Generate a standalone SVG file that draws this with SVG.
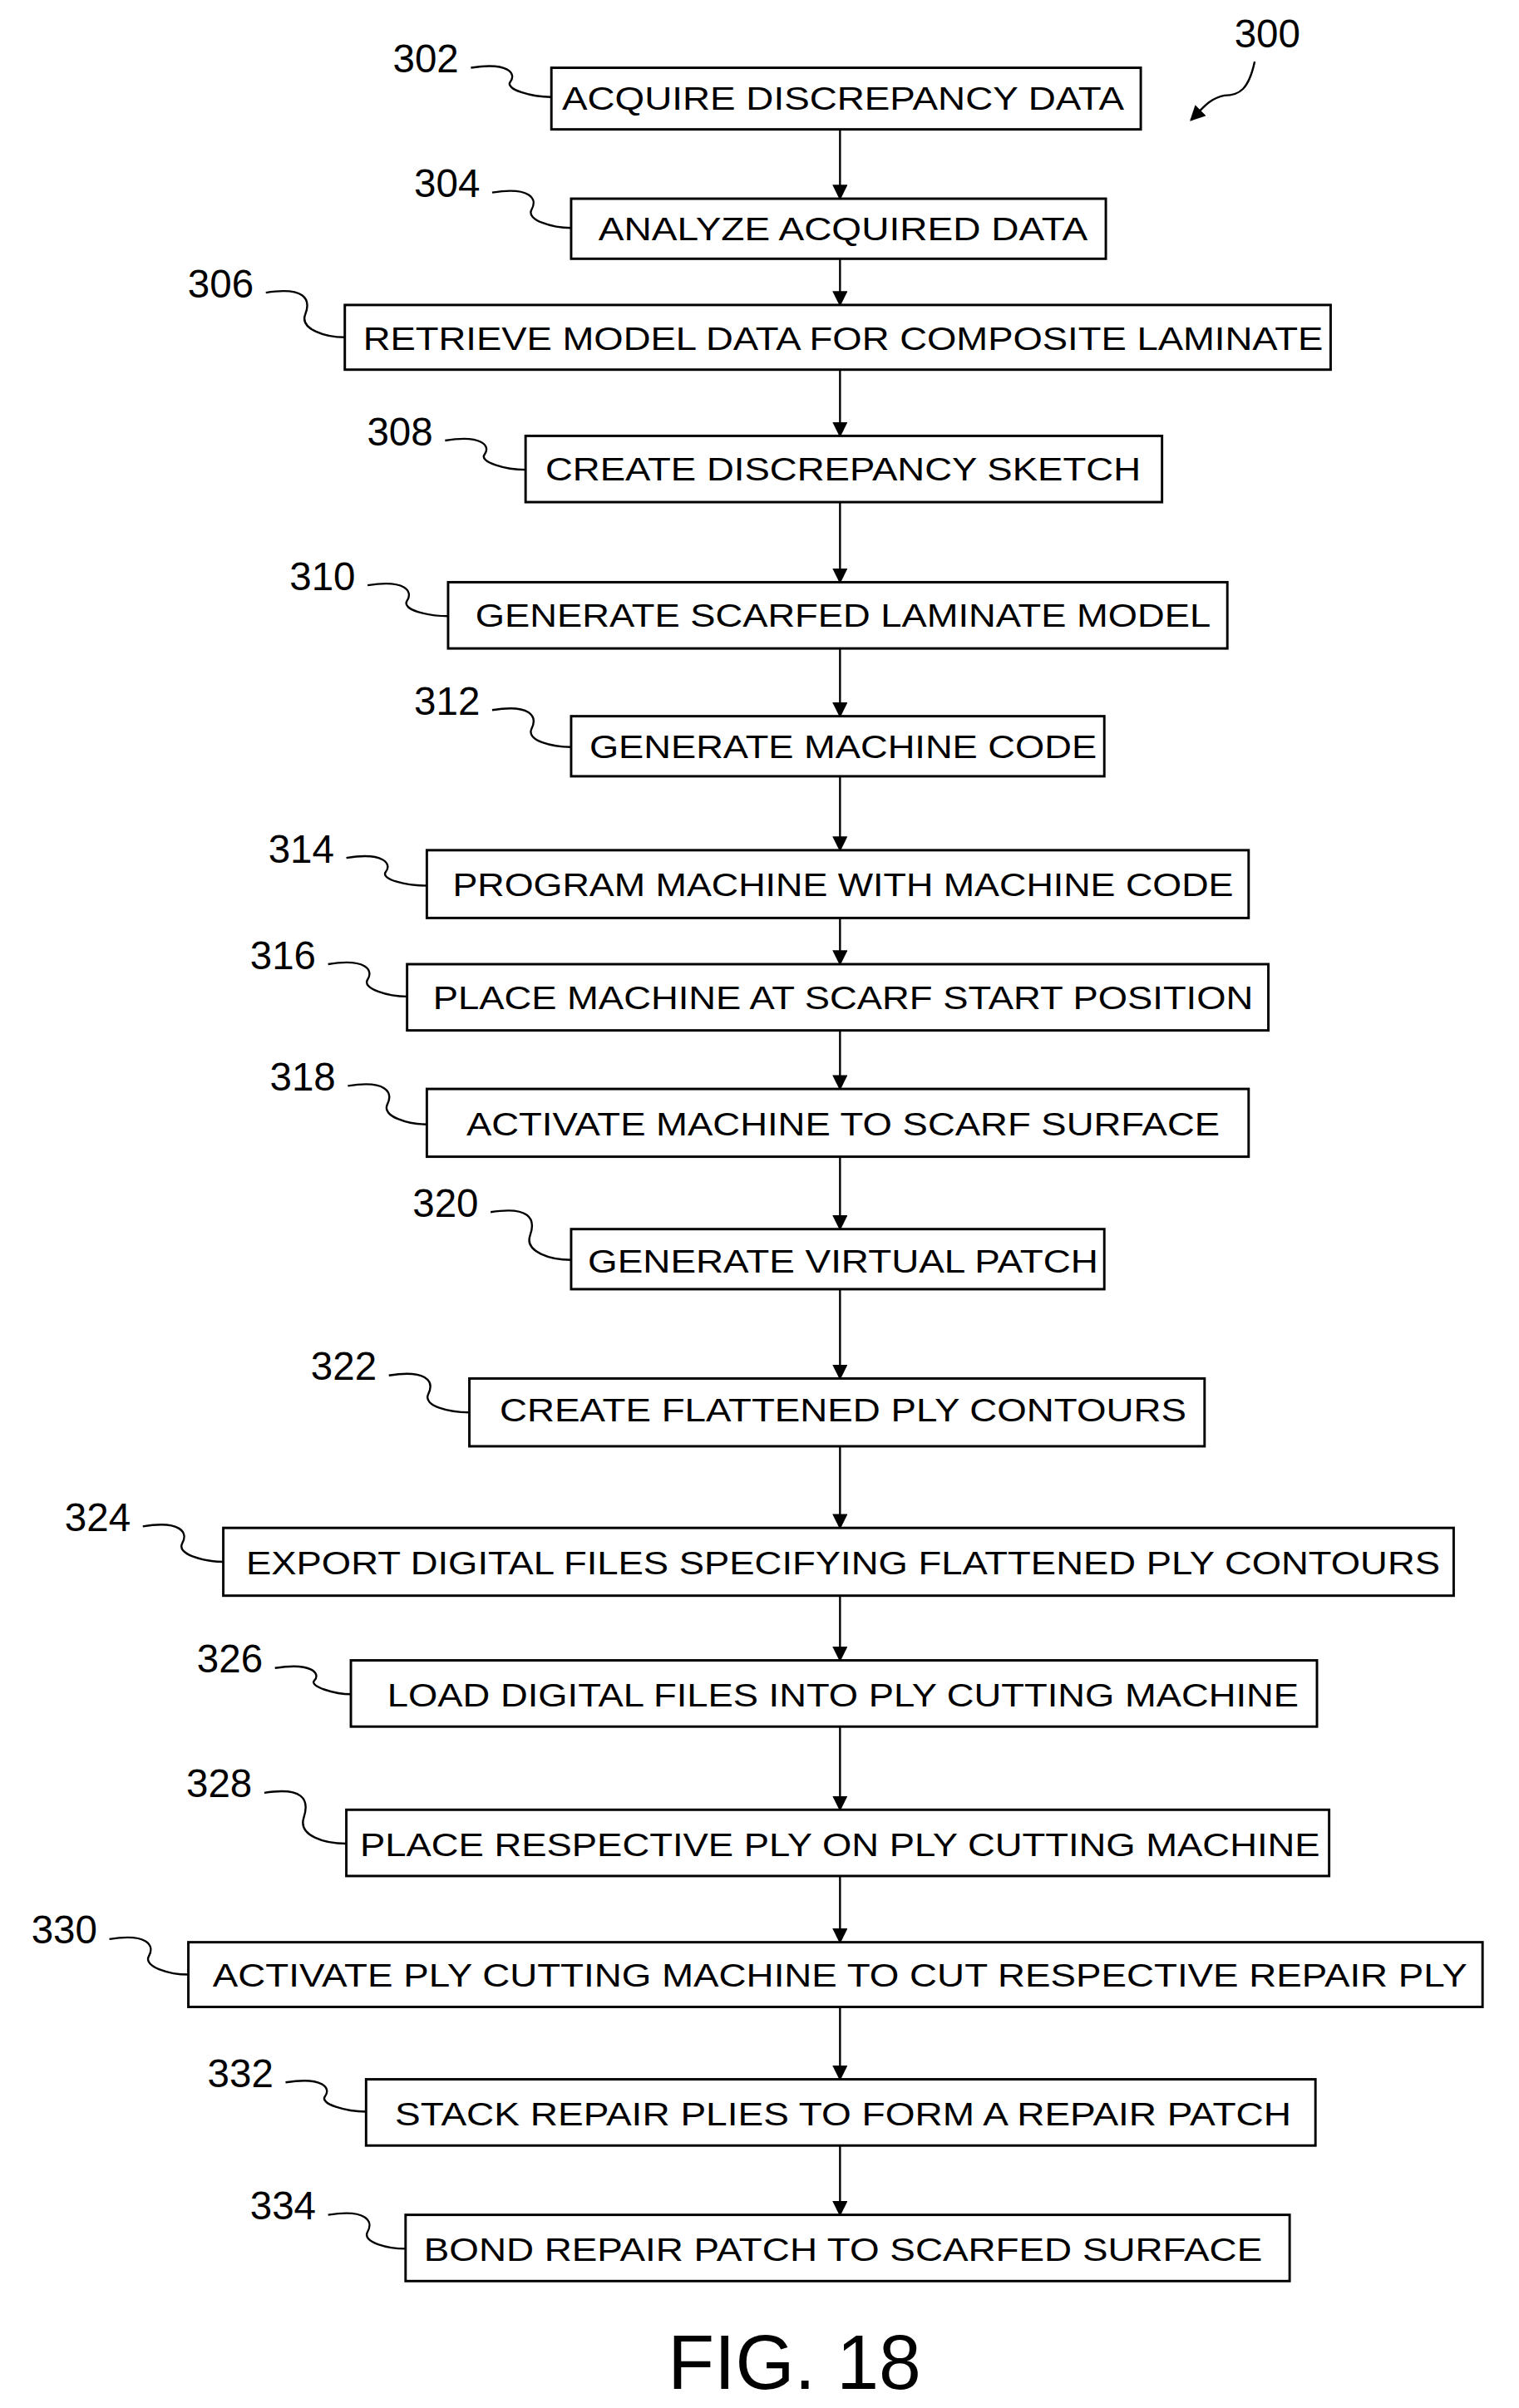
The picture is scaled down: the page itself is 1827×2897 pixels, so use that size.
<svg xmlns="http://www.w3.org/2000/svg" width="1827" height="2897" viewBox="0 0 1827 2897">
<defs><marker id="ah" markerWidth="10" markerHeight="12" refX="9" refY="5" orient="auto" markerUnits="userSpaceOnUse"><path d="M0,0 L10,5 L0,10 Z" fill="#000"/></marker></defs>
<style>
.b{fill:#fff;stroke:#000;stroke-width:1.6}
.t{font-family:"Liberation Sans",Arial,sans-serif;font-size:21px;text-anchor:middle}
.l{font-family:"Liberation Sans",Arial,sans-serif;font-size:26px;text-anchor:end}
.c{fill:none;stroke:#000;stroke-width:1.3}
</style>
<rect width="1827" height="2897" fill="#fff"/>
<g transform="scale(1.827 1.853)">
<g id="connectors">
<path class="c" marker-end="url(#ah)" d="M553,84V129"/>
<path class="c" marker-end="url(#ah)" d="M553,168V198"/>
<path class="c" marker-end="url(#ah)" d="M553,240V283"/>
<path class="c" marker-end="url(#ah)" d="M553,326V378"/>
<path class="c" marker-end="url(#ah)" d="M553,421V465"/>
<path class="c" marker-end="url(#ah)" d="M553,504V552"/>
<path class="c" marker-end="url(#ah)" d="M553,596V626"/>
<path class="c" marker-end="url(#ah)" d="M553,669V707"/>
<path class="c" marker-end="url(#ah)" d="M553,751V798"/>
<path class="c" marker-end="url(#ah)" d="M553,837V895"/>
<path class="c" marker-end="url(#ah)" d="M553,939V992"/>
<path class="c" marker-end="url(#ah)" d="M553,1036V1078"/>
<path class="c" marker-end="url(#ah)" d="M553,1121V1175"/>
<path class="c" marker-end="url(#ah)" d="M553,1218V1261"/>
<path class="c" marker-end="url(#ah)" d="M553,1303V1350"/>
<path class="c" marker-end="url(#ah)" d="M553,1393V1438"/>
<path class="c" d="M310,44 C335,40 340,48 336,53 S350,63 363,63 M324,125 C349,121 354,129 350,136 S364,148 376,148 M175,190 C200,186 205,194 201,204 S215,219 227,219 M293,286 C318,282 323,290 319,295 S333,305 346,305 M242,380 C267,376 272,384 268,390 S282,400 295,400 M324,461 C349,457 354,465 350,473 S364,485 376,485 M228,557 C253,553 258,561 254,566 S268,575 281,575 M216,626 C241,622 246,630 242,636 S256,647 268,647 M229,705 C254,701 259,709 255,717 S269,730 281,730 M323,787 C348,783 353,791 349,802 S363,818 376,818 M256,893 C281,889 286,897 282,905 S296,917 309,917 M94,991 C119,987 124,995 120,1002 S134,1014 147,1014 M181,1083 C206,1079 211,1087 207,1091 S221,1100 231,1100 M174,1164 C199,1160 204,1168 200,1180 S214,1197 228,1197 M72,1259 C97,1255 102,1263 98,1270 S112,1282 124,1282 M188,1352 C213,1348 218,1356 214,1361 S228,1371 241,1371 M216,1438 C241,1434 246,1442 242,1449 S256,1460 267,1460"/>
<path class="c" marker-end="url(#ah)" d="M826,40 C822,58 816,62 806,62 C796,64 792,70 784,78"/>
</g>
<g id="n302"><rect class="b" x="363" y="44" width="388" height="40"/><text class="t" x="555" y="71" textLength="370" lengthAdjust="spacingAndGlyphs">ACQUIRE DISCREPANCY DATA</text><text class="l" x="302" y="47">302</text></g>
<g id="n304"><rect class="b" x="376" y="129" width="352" height="39"/><text class="t" x="555" y="156" textLength="322" lengthAdjust="spacingAndGlyphs">ANALYZE ACQUIRED DATA</text><text class="l" x="316" y="128">304</text></g>
<g id="n306"><rect class="b" x="227" y="198" width="649" height="42"/><text class="t" x="555" y="227" textLength="632" lengthAdjust="spacingAndGlyphs">RETRIEVE MODEL DATA FOR COMPOSITE LAMINATE</text><text class="l" x="167" y="193">306</text></g>
<g id="n308"><rect class="b" x="346" y="283" width="419" height="43"/><text class="t" x="555" y="312" textLength="392" lengthAdjust="spacingAndGlyphs">CREATE DISCREPANCY SKETCH</text><text class="l" x="285" y="289">308</text></g>
<g id="n310"><rect class="b" x="295" y="378" width="513" height="43"/><text class="t" x="555" y="407" textLength="484" lengthAdjust="spacingAndGlyphs">GENERATE SCARFED LAMINATE MODEL</text><text class="l" x="234" y="383">310</text></g>
<g id="n312"><rect class="b" x="376" y="465" width="351" height="39"/><text class="t" x="555" y="492" textLength="334" lengthAdjust="spacingAndGlyphs">GENERATE MACHINE CODE</text><text class="l" x="316" y="464">312</text></g>
<g id="n314"><rect class="b" x="281" y="552" width="541" height="44"/><text class="t" x="555" y="582" textLength="514" lengthAdjust="spacingAndGlyphs">PROGRAM MACHINE WITH MACHINE CODE</text><text class="l" x="220" y="560">314</text></g>
<g id="n316"><rect class="b" x="268" y="626" width="567" height="43"/><text class="t" x="555" y="655" textLength="540" lengthAdjust="spacingAndGlyphs">PLACE MACHINE AT SCARF START POSITION</text><text class="l" x="208" y="629">316</text></g>
<g id="n318"><rect class="b" x="281" y="707" width="541" height="44"/><text class="t" x="555" y="737" textLength="496" lengthAdjust="spacingAndGlyphs">ACTIVATE MACHINE TO SCARF SURFACE</text><text class="l" x="221" y="708">318</text></g>
<g id="n320"><rect class="b" x="376" y="798" width="351" height="39"/><text class="t" x="555" y="826" textLength="336" lengthAdjust="spacingAndGlyphs">GENERATE VIRTUAL PATCH</text><text class="l" x="315" y="790">320</text></g>
<g id="n322"><rect class="b" x="309" y="895" width="484" height="44"/><text class="t" x="555" y="923" textLength="452" lengthAdjust="spacingAndGlyphs">CREATE FLATTENED PLY CONTOURS</text><text class="l" x="248" y="896">322</text></g>
<g id="n324"><rect class="b" x="147" y="992" width="810" height="44"/><text class="t" x="555" y="1022" textLength="786" lengthAdjust="spacingAndGlyphs">EXPORT DIGITAL FILES SPECIFYING FLATTENED PLY CONTOURS</text><text class="l" x="86" y="994">324</text></g>
<g id="n326"><rect class="b" x="231" y="1078" width="636" height="43"/><text class="t" x="555" y="1108" textLength="600" lengthAdjust="spacingAndGlyphs">LOAD DIGITAL FILES INTO PLY CUTTING MACHINE</text><text class="l" x="173" y="1086">326</text></g>
<g id="n328"><rect class="b" x="228" y="1175" width="647" height="43"/><text class="t" x="553" y="1205" textLength="632" lengthAdjust="spacingAndGlyphs">PLACE RESPECTIVE PLY ON PLY CUTTING MACHINE</text><text class="l" x="166" y="1167">328</text></g>
<g id="n330"><rect class="b" x="124" y="1261" width="852" height="42"/><text class="t" x="553" y="1290" textLength="826" lengthAdjust="spacingAndGlyphs">ACTIVATE PLY CUTTING MACHINE TO CUT RESPECTIVE REPAIR PLY</text><text class="l" x="64" y="1262">330</text></g>
<g id="n332"><rect class="b" x="241" y="1350" width="625" height="43"/><text class="t" x="555" y="1380" textLength="590" lengthAdjust="spacingAndGlyphs">STACK REPAIR PLIES TO FORM A REPAIR PATCH</text><text class="l" x="180" y="1355">332</text></g>
<g id="n334"><rect class="b" x="267" y="1438" width="582" height="43"/><text class="t" x="555" y="1468" textLength="552" lengthAdjust="spacingAndGlyphs">BOND REPAIR PATCH TO SCARFED SURFACE</text><text class="l" x="208" y="1441">334</text></g>
<text class="l" x="856" y="31">300</text>
<text x="523" y="1551" style="font-family:'Liberation Sans',Arial,sans-serif;font-size:50px;text-anchor:middle">FIG. 18</text>
</g>
</svg>
